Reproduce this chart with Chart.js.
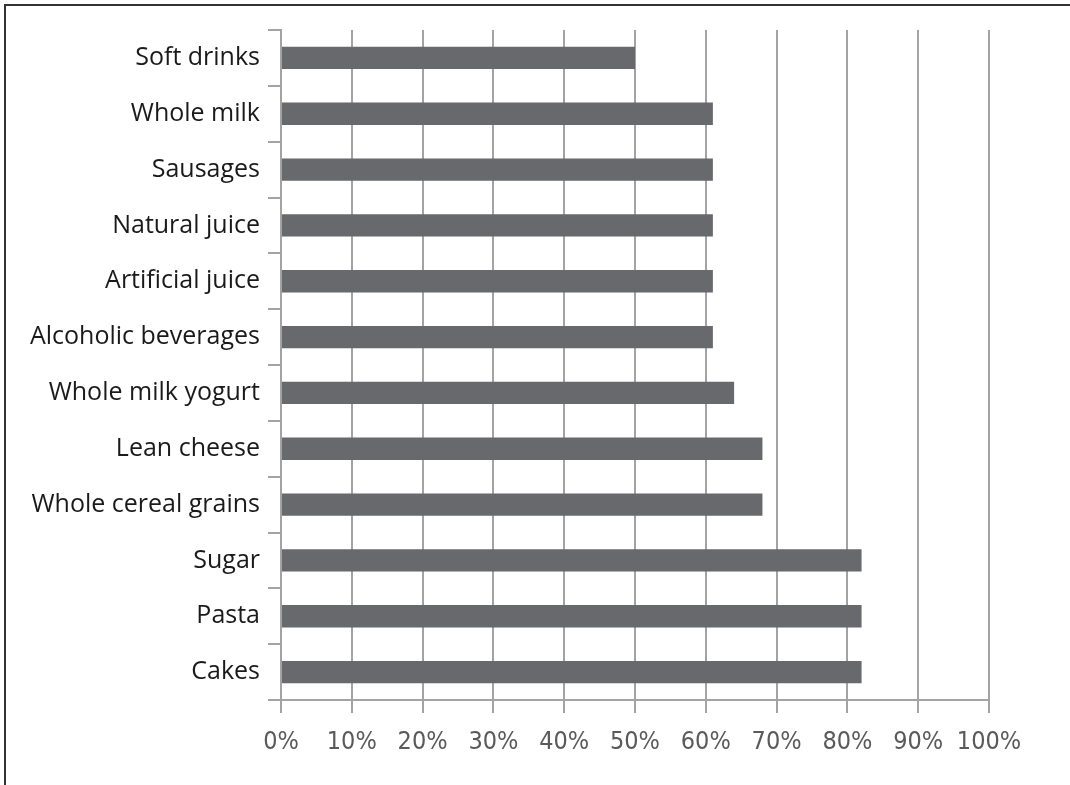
<!DOCTYPE html>
<html>
<head>
<meta charset="utf-8">
<script src="https://cdn.jsdelivr.net/npm/chart.js@4"></script>
<style>
  html, body { margin: 0; padding: 0; background: #fff; }
  #wrap { position: relative; width: 1070px; height: 785px; overflow: hidden; }
  #frame { position: absolute; left: 4px; top: 4px; right: -10px; bottom: -10px;
           border-top: 2px solid #333; border-left: 2px solid #333; }
  canvas { position: absolute; left: 0; top: 0; }
</style>
</head>
<body>
<div id="wrap">
  <div id="frame"></div>
  <canvas id="foodChart" width="1070" height="785"></canvas>
</div>
<script>
// Food groups (top to bottom) and share of respondents
const foods = [
    'Soft drinks', 'Whole milk', 'Sausages', 'Natural juice', 'Artificial juice',
    'Alcoholic beverages', 'Whole milk yogurt', 'Lean cheese', 'Whole cereal grains',
    'Sugar', 'Pasta', 'Cakes'
];
const shares = [50, 61, 61, 61, 61, 61, 64, 68, 68, 82, 82, 82];

const barColor = '#68696d';
const gridColor = '#a3a3a3';

const ctx = document.getElementById('foodChart').getContext('2d');
new Chart(ctx, {
    type: 'bar',
    data: {
        labels: foods,
        datasets: [{
            data: shares,
            backgroundColor: barColor,
            borderWidth: 0,
            barPercentage: 0.4,
            categoryPercentage: 1.0
        }]
    },
    options: {
        indexAxis: 'y',
        responsive: false,
        animation: false,
        layout: { padding: { top: 30, right: 81, left: 0, bottom: 0 } },
        plugins: { legend: { display: false }, tooltip: { enabled: false } },
        scales: {
            x: {
                min: 0,
                max: 100,
                ticks: {
                    stepSize: 10,
                    padding: 14,
                    maxRotation: 0,
                    minRotation: 0,
                    autoSkip: false,
                    color: '#5a5a5a',
                    font: { family: '"DejaVu Sans Condensed", "DejaVu Sans"', size: 25 },
                    callback: v => v + '%'
                },
                grid: { color: gridColor, lineWidth: 2, tickLength: 13 },
                border: { color: gridColor, width: 2 },
                afterFit: scale => { scale.height = 85; }
            },
            y: {
                ticks: {
                    padding: 8,
                    color: '#1a1a1a',
                    font: { family: '"Open Sans"', size: 25 }
                },
                grid: { offset: true, drawOnChartArea: false, color: gridColor, lineWidth: 2, tickLength: 13 },
                border: { color: gridColor, width: 2 },
                afterFit: scale => { scale.width = 281; }
            }
        }
    }
});
</script>
</body>
</html>
